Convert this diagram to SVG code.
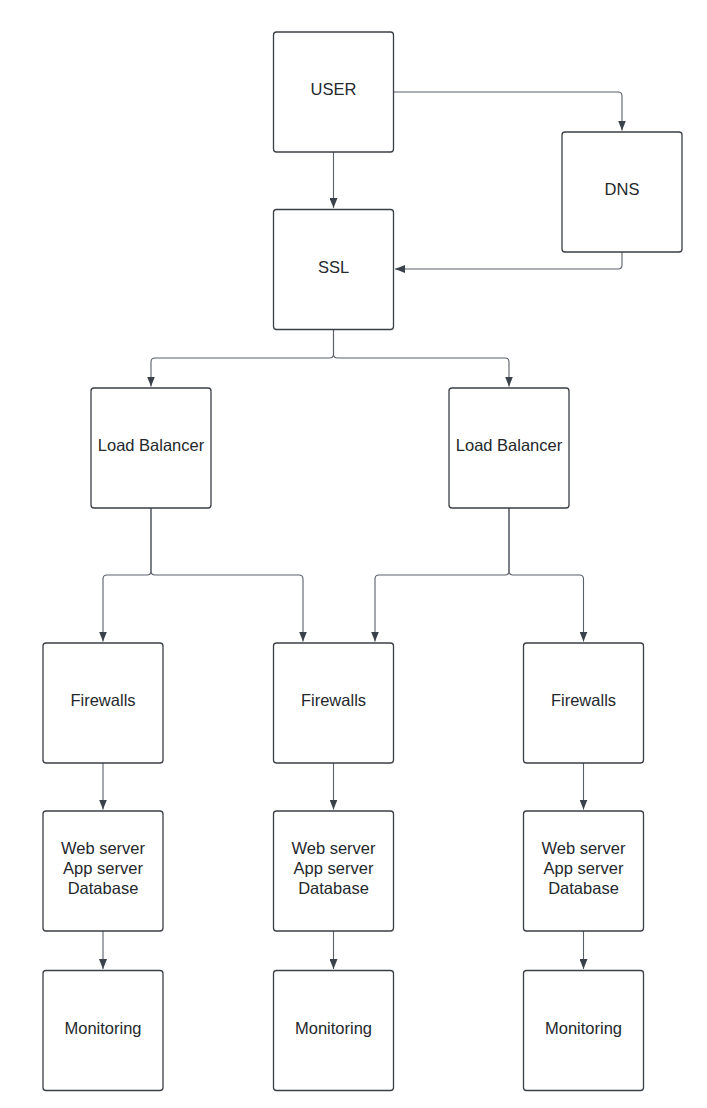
<svg xmlns="http://www.w3.org/2000/svg" width="707" height="1108" viewBox="0 0 707 1108">
<defs>
<style>
.box{fill:#ffffff;stroke:#3a3f45;stroke-width:1.3}
.lbl{font-family:"Liberation Sans",Arial,sans-serif;font-size:16.5px;fill:#24282c;text-anchor:middle;dominant-baseline:central}
.con{fill:none;stroke:#5a6068;stroke-width:1.1}
</style>
<marker id="arr" viewBox="0 0 10 8" refX="10" refY="4" markerWidth="10" markerHeight="8" markerUnits="userSpaceOnUse" orient="auto">
<path d="M0,0 L10,4 L0,8 z" fill="#3a414a"/>
</marker>
</defs>
<rect width="707" height="1108" fill="#ffffff"/>
<g id="connectors">
<path class="con" marker-end="url(#arr)" d="M333.5,152 V208"/>
<path class="con" marker-end="url(#arr)" d="M393.5,92 H618 Q622,92 622,96 V130.5"/>
<path class="con" marker-end="url(#arr)" d="M622,252 V265 Q622,269 618,269 H395"/>
<path class="con" marker-end="url(#arr)" d="M333.5,329.5 V354 Q333.5,358 329.5,358 H155 Q151,358 151,362 V386.5"/>
<path class="con" marker-end="url(#arr)" d="M333.5,329.5 V354 Q333.5,358 337.5,358 H505 Q509,358 509,362 V386.5"/>
<path class="con" marker-end="url(#arr)" d="M151,508 V571 Q151,575 147,575 H107 Q103,575 103,579 V641.5"/>
<path class="con" marker-end="url(#arr)" d="M151,508 V571 Q151,575 155,575 H299 Q303,575 303,579 V641.5"/>
<path class="con" marker-end="url(#arr)" d="M509,508 V571 Q509,575 505,575 H379 Q375,575 375,579 V641.5"/>
<path class="con" marker-end="url(#arr)" d="M509,508 V571 Q509,575 513,575 H579.5 Q583.5,575 583.5,579 V641.5"/>
<path class="con" marker-end="url(#arr)" d="M103,763 V809.5"/>
<path class="con" marker-end="url(#arr)" d="M333.5,763 V809.5"/>
<path class="con" marker-end="url(#arr)" d="M583.5,763 V809.5"/>
<path class="con" marker-end="url(#arr)" d="M103,931 V969"/>
<path class="con" marker-end="url(#arr)" d="M333.5,931 V969"/>
<path class="con" marker-end="url(#arr)" d="M583.5,931 V969"/>
</g>
<g id="user"><rect class="box" x="273.5" y="32" width="120" height="120" rx="3"/><text class="lbl" x="333.5" y="89">USER</text></g>
<g id="dns"><rect class="box" x="562" y="132" width="120" height="120" rx="3"/><text class="lbl" x="622" y="189">DNS</text></g>
<g id="ssl"><rect class="box" x="273.5" y="209.5" width="120" height="120" rx="3"/><text class="lbl" x="333.5" y="266.5">SSL</text></g>
<g id="lb1"><rect class="box" x="91" y="388" width="120" height="120" rx="3"/><text class="lbl" x="151" y="445">Load Balancer</text></g>
<g id="lb2"><rect class="box" x="449" y="388" width="120" height="120" rx="3"/><text class="lbl" x="509" y="445">Load Balancer</text></g>
<g id="fw1"><rect class="box" x="43" y="643" width="120" height="120" rx="3"/><text class="lbl" x="103" y="700">Firewalls</text></g>
<g id="fw2"><rect class="box" x="273.5" y="643" width="120" height="120" rx="3"/><text class="lbl" x="333.5" y="700">Firewalls</text></g>
<g id="fw3"><rect class="box" x="523.5" y="643" width="120" height="120" rx="3"/><text class="lbl" x="583.5" y="700">Firewalls</text></g>
<g id="srv1"><rect class="box" x="43" y="811" width="120" height="120" rx="3"/><text class="lbl" x="103" y="848">Web server</text><text class="lbl" x="103" y="868">App server</text><text class="lbl" x="103" y="888">Database</text></g>
<g id="srv2"><rect class="box" x="273.5" y="811" width="120" height="120" rx="3"/><text class="lbl" x="333.5" y="848">Web server</text><text class="lbl" x="333.5" y="868">App server</text><text class="lbl" x="333.5" y="888">Database</text></g>
<g id="srv3"><rect class="box" x="523.5" y="811" width="120" height="120" rx="3"/><text class="lbl" x="583.5" y="848">Web server</text><text class="lbl" x="583.5" y="868">App server</text><text class="lbl" x="583.5" y="888">Database</text></g>
<g id="mon1"><rect class="box" x="43" y="970.5" width="120" height="120" rx="3"/><text class="lbl" x="103" y="1028">Monitoring</text></g>
<g id="mon2"><rect class="box" x="273.5" y="970.5" width="120" height="120" rx="3"/><text class="lbl" x="333.5" y="1028">Monitoring</text></g>
<g id="mon3"><rect class="box" x="523.5" y="970.5" width="120" height="120" rx="3"/><text class="lbl" x="583.5" y="1028">Monitoring</text></g>
</svg>
